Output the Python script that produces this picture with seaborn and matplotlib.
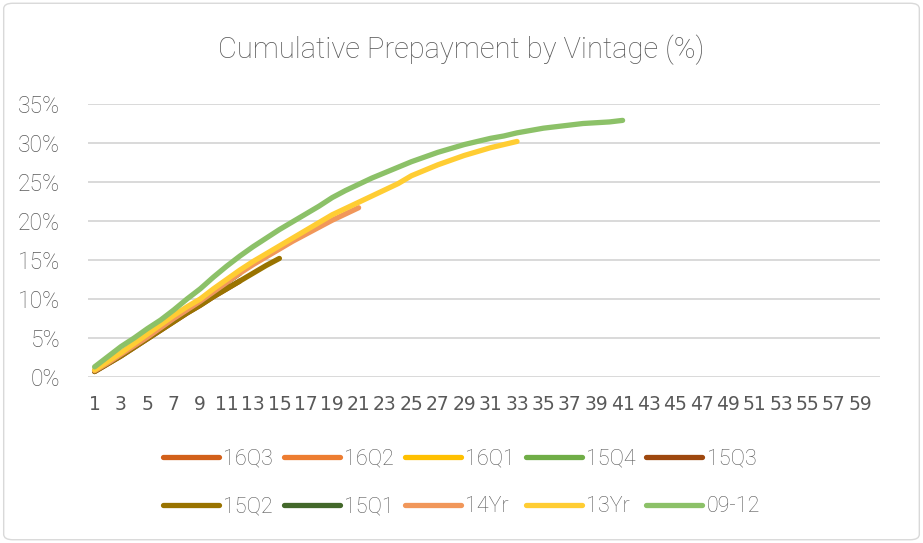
# Cumulative prepayment by vintage

import pandas as pd
import matplotlib.pyplot as plt
import seaborn as sns
from matplotlib.patches import FancyBboxPatch

vintages = ['16Q3', '16Q2', '16Q1', '15Q4', '15Q3', '15Q2', '15Q1', '14Yr', '13Yr', '09-12']
colors = ['#D2601A', '#ED7D31', '#FFC000', '#70AD47', '#9E480E',
          '#997300', '#43682B', '#F1975A', '#FFCD33', '#8CC168']

# valores (% acumulado por mês)
v16q3 = [0.8, 1.8]
v16q2 = [0.8, 1.8, 2.9, 4.0, 5.0]
v16q1 = [0.8, 1.8, 2.9, 4.0, 5.1, 6.3, 7.5, 8.6]
v15q4 = [0.8, 1.8, 2.9, 4.0, 5.1, 6.3, 7.5, 8.6, 9.7, 10.9, 12.0]
v15q3 = [0.7, 1.7, 2.7, 3.8, 4.9, 6.0, 7.1, 8.2, 9.2, 10.3, 11.3, 12.3]
v15q2 = [0.7, 1.7, 2.7, 3.8, 4.9, 6.0, 7.1, 8.2, 9.2, 10.3, 11.3, 12.3, 13.3, 14.3, 15.2]
v15q1 = [0.8, 1.8, 2.9, 4.0, 5.1, 6.3, 7.5, 8.6, 9.7, 10.9, 12.1, 13.3]
v14yr = [0.8, 1.8, 2.9, 4.0, 5.1, 6.3, 7.5, 8.6, 9.7, 10.9, 12.1, 13.3, 14.4, 15.4,
         16.4, 17.4, 18.3, 19.2, 20.1, 20.9, 21.7]
v13yr = [0.9, 2.0, 3.1, 4.3, 5.5, 6.7, 7.9, 9.0, 10.0, 11.3, 12.5, 13.7, 14.8, 15.8,
         16.8, 17.8, 18.8, 19.8, 20.8, 21.6, 22.4, 23.2, 24.0, 24.8, 25.8, 26.5,
         27.2, 27.8, 28.4, 28.9, 29.4, 29.8, 30.2]
v0912 = [1.3, 2.6, 3.9, 5.0, 6.2, 7.3, 8.6, 10.0, 11.3, 12.8, 14.2, 15.5, 16.7, 17.8,
         18.9, 19.9, 20.9, 21.9, 23.0, 23.9, 24.7, 25.5, 26.2, 26.9, 27.6, 28.2,
         28.8, 29.3, 29.8, 30.2, 30.6, 30.9, 31.3, 31.6, 31.9, 32.1, 32.3, 32.5,
         32.6, 32.7, 32.9]

series = [v16q3, v16q2, v16q1, v15q4, v15q3, v15q2, v15q1, v14yr, v13yr, v0912]
month_labels = [str(m) for m in range(1, 61)]

rows = []
for name, vals in zip(vintages, series):
    for i, v in enumerate(vals):
        rows.append({'mes': i + 1, 'pct': v / 100, 'vintage': name})
df = pd.DataFrame(rows)

sns.set_style('white')
plt.rcParams['font.family'] = ['Roboto', 'DejaVu Sans']
plt.rcParams['font.weight'] = 'light'
grey = '#595959'

fig = plt.figure(figsize=(9.23, 5.43), dpi=100)
ax = fig.add_axes([88 / 923, 1 - 377 / 543, 792 / 923, 273 / 543])

sns.lineplot(data=df, x='mes', y='pct', hue='vintage', hue_order=vintages,
             palette=colors, linewidth=3.8, ax=ax, estimator=None, sort=False)
for ln in ax.get_lines():
    ln.set_solid_capstyle('round')

ax.set_xlim(0.5, 60.5)
ax.set_ylim(0, 0.35)
ax.set_xticks(range(1, 61, 2))
ax.set_xticklabels(month_labels[::2], color=grey, fontsize=13.5,
                   family=['Liberation Sans Narrow', 'DejaVu Sans'], fontweight='normal')
ax.set_yticks([i * 0.05 for i in range(8)])
ax.set_yticklabels([f'{i * 5}%' for i in range(8)], color=grey, fontsize=16.5)
ax.tick_params(axis='y', length=0, pad=20)
ax.tick_params(axis='x', length=0, pad=13)
ax.set_xlabel('')
ax.set_ylabel('')
ax.grid(axis='y', color='#D9D9D9', linewidth=1.4)
ax.set_axisbelow(True)
for s in ax.spines.values():
    s.set_visible(False)

fig.text(0.5, 1 - 50 / 543, 'Cumulative Prepayment by Vintage (%)', ha='center', va='center',
         fontsize=21, color=grey)

handles, labels = ax.get_legend_handles_labels()
ax.legend_.remove()
for h in handles:
    h.set_solid_capstyle('round')
# legenda preenchida por linhas (ordem do Excel)
order = [0, 5, 1, 6, 2, 7, 3, 8, 4, 9]
fig.legend([handles[i] for i in order], [labels[i] for i in order],
           loc='center', bbox_to_anchor=(0.5, 1 - 483 / 543), ncol=5,
           frameon=False, labelcolor=grey, handlelength=2.6,
           columnspacing=0.5, handletextpad=0.2, labelspacing=1.25,
           prop={'size': 15.5, 'weight': 'light'})

border = FancyBboxPatch((0.004, 0.006), 0.992, 0.988, boxstyle='round,pad=0,rounding_size=0.01',
                        transform=fig.transFigure, fill=False, edgecolor='#D9D9D9', linewidth=1)
fig.patches.append(border)

fig.savefig('out.png', dpi=100, facecolor='white')
